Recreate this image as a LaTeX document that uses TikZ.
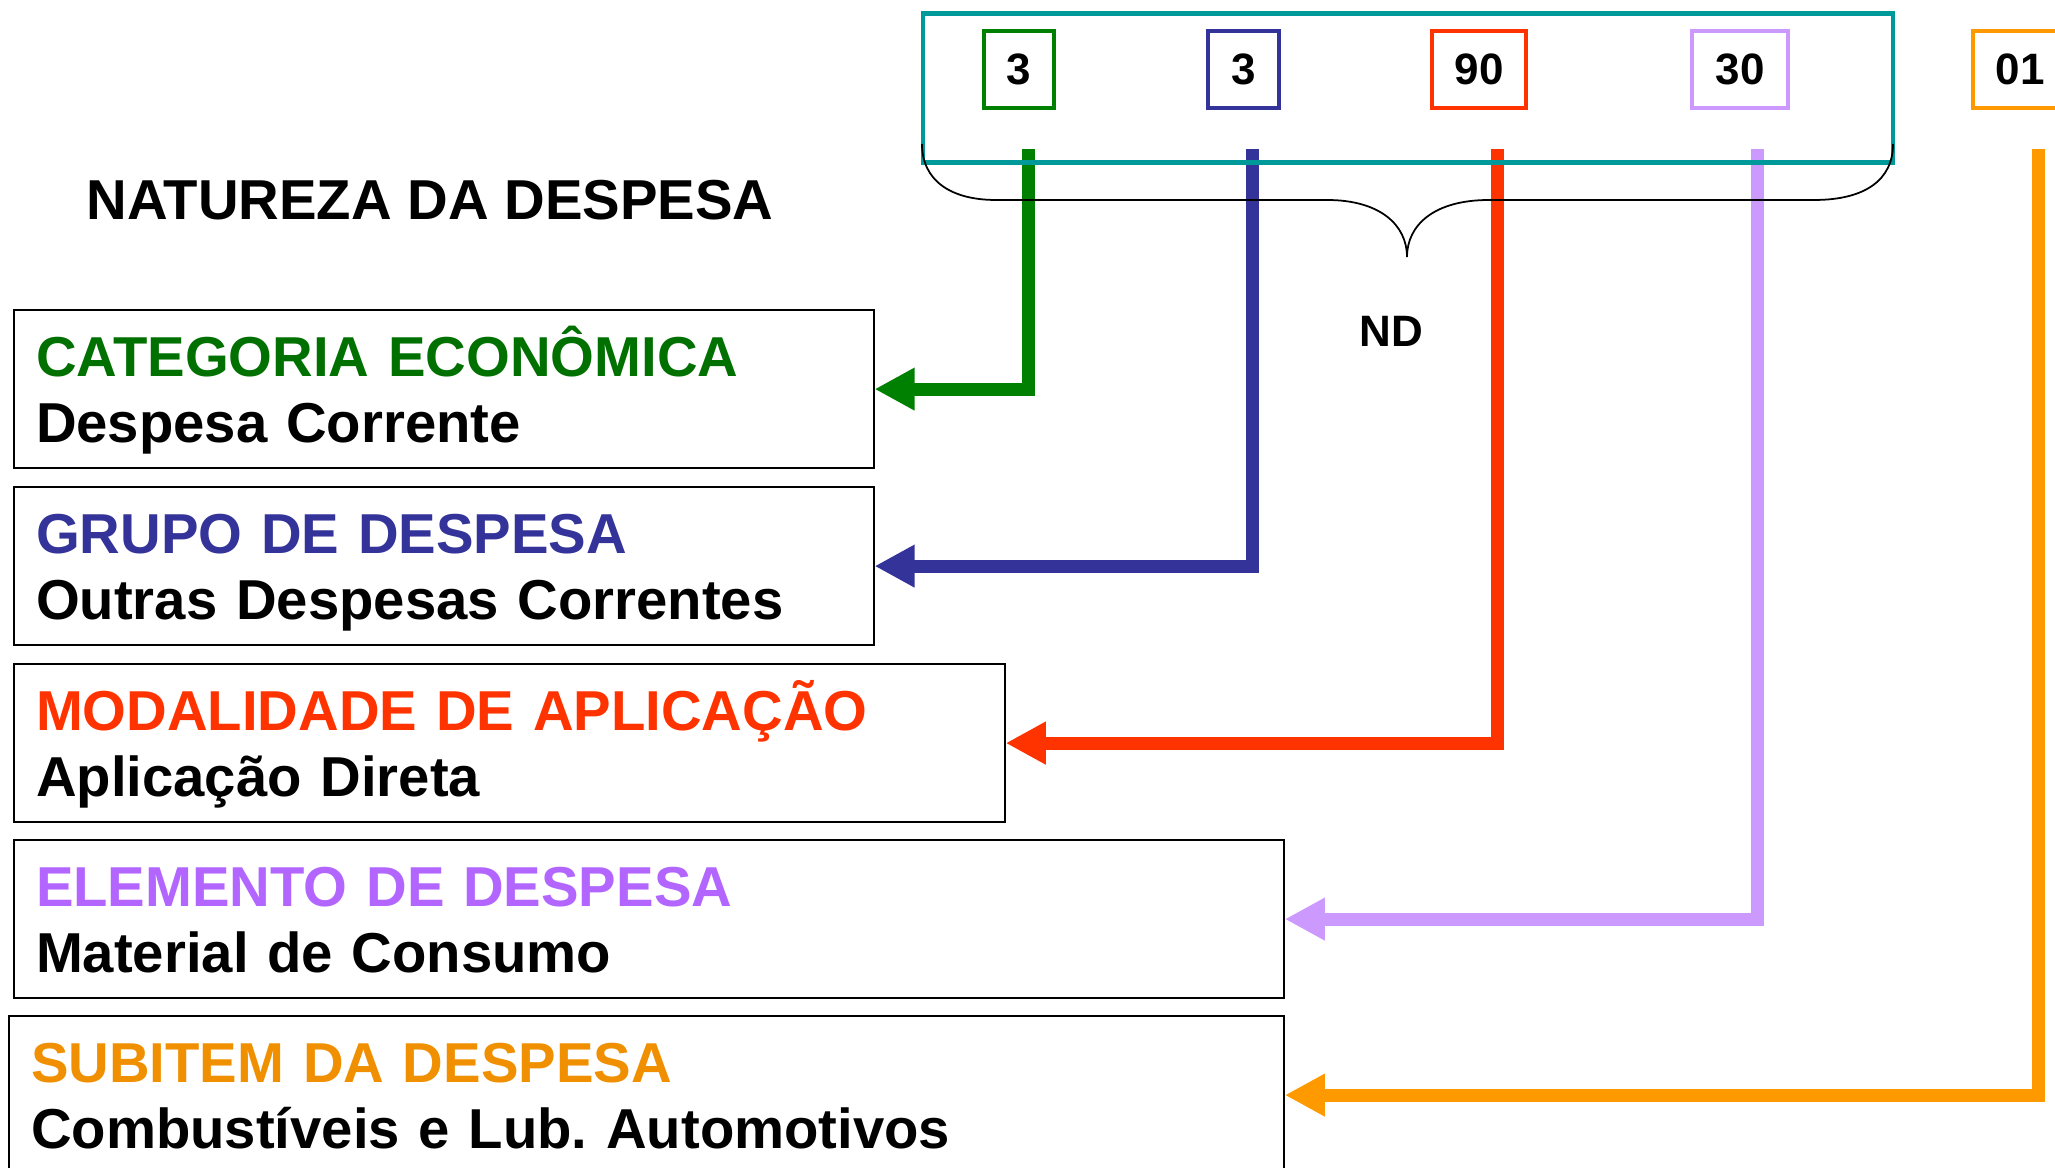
\documentclass[tikz,border=0pt]{standalone}
\usepackage{fontspec}
\setmainfont{Liberation Sans}
\usepackage{tikz}
\usetikzlibrary{arrows.meta}
\usepackage{xcolor}
\frenchspacing

\definecolor{ndgreen}{RGB}{0,128,0}
\definecolor{ndgreentxt}{RGB}{0,112,0}
\definecolor{ndblue}{RGB}{51,51,153}
\definecolor{ndred}{RGB}{255,51,0}
\definecolor{ndlilac}{RGB}{204,153,255}
\definecolor{ndlilactxt}{RGB}{178,102,255}
\definecolor{ndorange}{RGB}{255,153,0}
\definecolor{ndorangetxt}{RGB}{240,144,0}
\definecolor{ndteal}{RGB}{0,153,153}

\begin{document}
\begin{tikzpicture}[
    x=0.01cm, y=-0.01cm,
    digitbox/.style={rectangle, draw, line width=1.2pt, minimum height=0.77cm, inner sep=0pt, font=\bfseries\fontsize{12.5}{15}\selectfont},
    itembox/.style={rectangle, draw, line width=0.6pt, anchor=north west, align=left, inner xsep=0.22cm, inner ysep=0pt, minimum height=1.58cm, text height=11.46pt, text depth=18.78pt, font=\bfseries\fontsize{16}{18.78}\selectfont},
    heading/.style={inner sep=0pt, font=\bfseries\fontsize{16}{19}\selectfont},
    feed/.style={-{Triangle[length=11.4pt, width=11.4pt]}, line width=3.7pt}
]
\useasboundingbox (0,0) rectangle (2055,1168);

\node[heading, anchor=base west] (title) at (86,220) {NATUREZA DA DESPESA};

% code digits
\node[digitbox, draw=ndgreen, minimum width=0.70cm] (d1) at (1019,69.5) {3};
\node[digitbox, draw=ndblue, minimum width=0.71cm] (d2) at (1243.5,69.5) {3};
\node[digitbox, draw=ndred, minimum width=0.94cm] (d3) at (1479,69.5) {90};
\node[digitbox, draw=ndlilac, minimum width=0.96cm] (d4) at (1740,69.5) {30};
\node[digitbox, draw=ndorange, minimum width=0.94cm] (d5) at (2020,69.5) {01};

\node[font=\bfseries\fontsize{12.5}{15}\selectfont, anchor=base] (nd) at (1391,347) {ND};

% description boxes
\node[itembox, text width=8.15cm] (catbox) at (13,309) {\textcolor{ndgreentxt}{CATEGORIA ECONÔMICA}\\Despesa Corrente};
\node[itembox, text width=8.15cm] (grpbox) at (13,486) {\textcolor{ndblue}{GRUPO DE DESPESA}\\Outras Despesas Correntes};
\node[itembox, text width=9.46cm] (modbox) at (13,663) {\textcolor{ndred}{MODALIDADE DE APLICAÇÃO}\\Aplicação Direta};
\node[itembox, text width=12.25cm] (elebox) at (13,839) {\textcolor{ndlilactxt}{ELEMENTO DE DESPESA}\\Material de Consumo};
\node[itembox, text width=12.30cm] (subbox) at (8,1015) {\textcolor{ndorangetxt}{SUBITEM DA DESPESA}\\Combustíveis e Lub. Automotivos};

\coordinate (t1) at (1028,149);
\coordinate (t2) at (1252,149);
\coordinate (t3) at (1497,149);
\coordinate (t4) at (1757,149);
\coordinate (t5) at (2038,149);

\draw[feed, ndgreen] (t1) |- (catbox.east);
\draw[feed, ndblue] (t2) |- (grpbox.east);
\draw[feed, ndred] (t3) |- (modbox.east);
\draw[feed, ndlilac] (t4) |- (elebox.east);
\draw[feed, ndorange] (t5) |- (subbox.east);

\draw[ndteal, line width=1.15pt] (923,13.5) rectangle (1893,162.5);

% brace over the ND part
\draw[line width=0.5pt] (922,144) .. controls (922,180) and (950,200) .. (996,200) -- (1327,200)
    .. controls (1380,200) and (1407,225) .. (1407,257)
    .. controls (1407,225) and (1434,200) .. (1489,200) -- (1814,200)
    .. controls (1865,200) and (1893,180) .. (1893,144);
\end{tikzpicture}
\end{document}
